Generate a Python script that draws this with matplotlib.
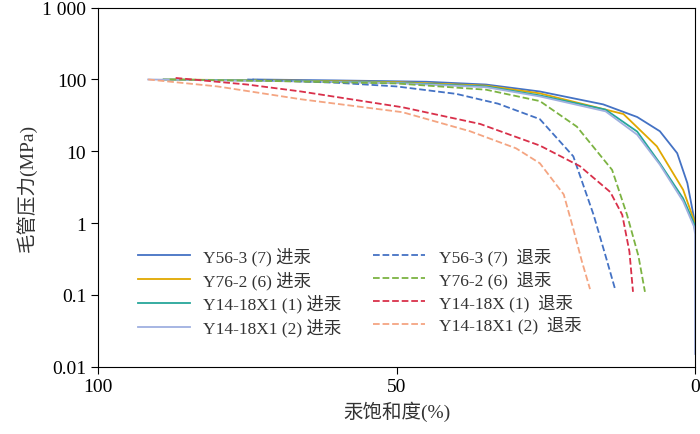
import matplotlib.pyplot as plt
from matplotlib.ticker import FixedLocator, NullLocator

plt.rcParams['font.family'] = ['Liberation Serif', 'Noto Sans CJK SC']

# 进汞 (solid)
x_a = [74, 60, 45, 35, 26, 15.4, 9.7, 5.9, 3, 1.3, 0.2, 0]
y_a = [100, 97, 93, 85, 68, 45, 30, 19, 9.4, 3.6, 1.2, 0.8]
x_b = [89, 70, 50, 35, 26, 12, 6.4, 2, 0.2, 0]
y_b = [100, 97, 92, 82, 64, 33, 11.7, 2.9, 1.1, 0.75]
x_c = [89, 70, 50, 35, 26, 15, 9.7, 5.9, 2, 0.2, 0]
y_c = [100, 96, 90, 80, 60, 38, 18.8, 6.8, 2.2, 1.0, 0.8]
x_d = [91.6, 70, 50, 35, 26, 15, 9.7, 5.9, 2, 0.2, 0, 0]
y_d = [100, 95, 89, 78, 58, 36, 17, 6.5, 2.0, 0.9, 0.7, 0.015]
# 退汞 (dashed)
x_e = [75, 60, 50, 40, 33, 26, 20.4, 17, 15, 13.4]
y_e = [100, 90, 80, 63, 46, 28, 8.5, 1.3, 0.35, 0.12]
x_f = [88, 70, 50, 35, 26, 19.8, 13.9, 11.4, 9.5, 8.4]
y_f = [100, 95, 88, 72, 50, 22, 5.5, 1.3, 0.35, 0.11]
x_g = [87, 75, 66, 49, 36, 26, 19.3, 14.2, 12.2, 11, 10.4]
y_g = [105, 85, 68, 41, 24, 12, 6.2, 2.7, 1.3, 0.4, 0.11]
x_h = [91.6, 80, 66, 49, 37.7, 30, 26, 22, 20.4, 19, 17.6]
y_h = [100, 80, 53, 35, 19, 11, 6.8, 2.5, 0.83, 0.3, 0.12]

series = [
    (x_a, y_a, 'Y56-3 (7) 进汞', '#4472c4', '-'),
    (x_b, y_b, 'Y76-2 (6) 进汞', '#e0a800', '-'),
    (x_c, y_c, 'Y14-18X1 (1) 进汞', '#26a69a', '-'),
    (x_d, y_d, 'Y14-18X1 (2) 进汞', '#9fb0e0', '-'),
    (x_e, y_e, 'Y56-3 (7)  退汞', '#4472c4', '--'),
    (x_f, y_f, 'Y76-2 (6)  退汞', '#7cb342', '--'),
    (x_g, y_g, 'Y14-18X (1)  退汞', '#d9304a', '--'),
    (x_h, y_h, 'Y14-18X1 (2)  退汞', '#f4a582', '--'),
]

fig = plt.figure(figsize=(7, 4.35), dpi=100)
ax = fig.add_axes([0.14, 0.155, 0.853, 0.825])
for x, y, lab, c, ls in series:
    ax.plot(x, y, ls, color=c, lw=1.3, label=lab)

ax.set_yscale('log')
ax.set_ylim(0.01, 1000)
ax.set_xlim(100, 0)
ax.yaxis.set_major_locator(FixedLocator([0.01, 0.1, 1, 10, 100, 1000]))
ax.yaxis.set_minor_locator(NullLocator())
ax.set_yticklabels(['0.01', '0.1', '1', '10', '100', '1 000'])
ax.set_xticks([100, 50, 0])
ax.tick_params(labelsize=14, direction='out', length=5, color='black')
ax.set_xlabel('汞饱和度(%)', fontsize=14, color='#333333')
ax.set_ylabel('毛管压力(MPa)', fontsize=14, color='#333333')
ax.legend(ncol=2, loc='lower left', bbox_to_anchor=(0.04, 0.04), frameon=False,
          fontsize=12.5, handlelength=3, columnspacing=1.8, labelspacing=0.3,
          labelcolor='#333333')
fig.savefig('out.png')
